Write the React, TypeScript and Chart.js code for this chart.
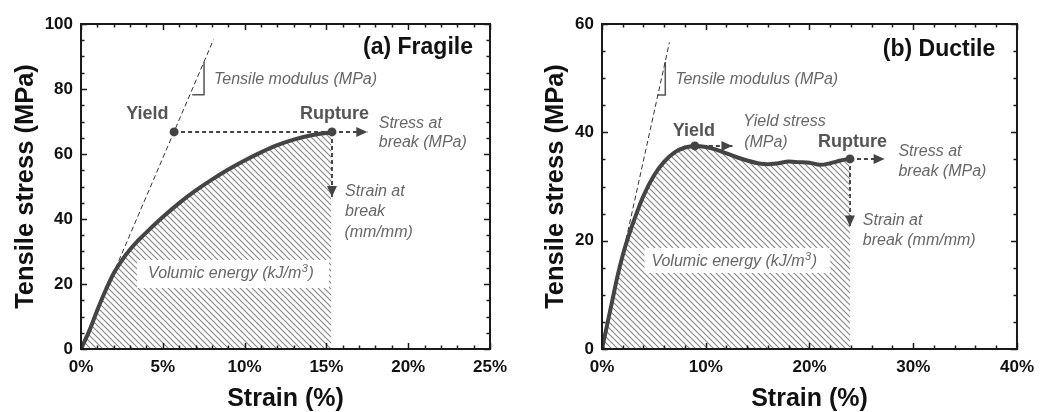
import React, { useEffect, useRef } from 'react';
import { Chart, registerables } from 'chart.js';

Chart.register(...registerables);

const FONT = "'Liberation Sans', Arial, Helvetica, sans-serif";

// ---------- (a) Fragile ----------
const fragileStrain = [0, 0.5, 1, 1.5, 2, 2.5, 3, 3.5, 4, 5, 6, 7, 8, 9, 10, 11, 12, 13, 14, 15.3];
const fragileStress = [0, 5.5, 12, 18, 23.3, 27.3, 30.6, 33.4, 35.9, 40.6, 44.9, 48.7, 52.1, 55.2, 58, 60.5, 62.7, 64.4, 65.7, 66.7];
const fragileModulusStrain = [0, 8.1];
const fragileModulusStress = [0, 95.2];
const fragileSlopeStrain = [6.8, 7.52, 7.52];
const fragileSlopeStress = [78.2, 78.2, 88.3];
const fragileYield = [5.69, 66.8];
const fragileRupture = [15.34, 66.8];
const fragileStressArrowTip = 17.5; // strain %
const fragileStrainArrowTip = 46.8; // MPa

// ---------- (b) Ductile ----------
const ductileStrain = [0, 0.5, 1, 1.5, 2, 2.5, 3, 4, 5, 6, 7, 8, 8.95, 10, 11, 12, 13, 14, 15, 16, 17, 18, 19, 20, 21, 22, 23, 23.9];
const ductileStress = [0, 4.5, 9, 13.5, 17.3, 20.5, 23.3, 28.3, 32, 34.6, 36.3, 37.2, 37.5, 37.3, 36.8, 36.1, 35.4, 34.8, 34.3, 34.1, 34.3, 34.6, 34.5, 34.4, 34.0, 34.3, 34.8, 35.1];
const ductileModulusStrain = [0, 6.5];
const ductileModulusStress = [0, 56.6];
const ductileSlopeStrain = [5.33, 6.1, 6.1];
const ductileSlopeStress = [46.9, 46.9, 53.0];
const ductileYield = [8.95, 37.5];
const ductileYieldArrowTip = 12.57; // strain %
const ductileRupture = [23.9, 35.1];
const ductileStressArrowTip = 27.24; // strain %
const ductileStrainArrowTip = 22.6; // MPa

// ---------- axes ----------
const fragileXTicks = { max: 25, step: 5, minor: 1 };
const fragileYTicks = { max: 100, step: 20, minor: 5 };
const ductileXTicks = { max: 40, step: 10, minor: 2 };
const ductileYTicks = { max: 60, step: 20, minor: 5 };

const X_TITLE = 'Strain (%)';
const Y_TITLE = 'Tensile stress (MPa)';

type TextSpec = { t: string; x: number; y: number; kind: 'bold' | 'italic' | 'panel'; align?: CanvasTextAlign };

const fragileTexts: TextSpec[] = [
  { t: '(a) Fragile', x: 23.96, y: 92.6, kind: 'panel', align: 'right' },
  { t: 'Tensile modulus (MPa)', x: 8.13, y: 82.8, kind: 'italic' },
  { t: 'Yield', x: 4.06, y: 72.3, kind: 'bold', align: 'center' },
  { t: 'Rupture', x: 15.5, y: 72.3, kind: 'bold', align: 'center' },
  { t: 'Stress at', x: 18.2, y: 69.5, kind: 'italic' },
  { t: 'break (MPa)', x: 18.2, y: 63.4, kind: 'italic' },
  { t: 'Strain at', x: 16.14, y: 48.6, kind: 'italic' },
  { t: 'break', x: 16.14, y: 42.2, kind: 'italic' },
  { t: '(mm/mm)', x: 16.1, y: 35.7, kind: 'italic' },
];
const ductileTexts: TextSpec[] = [
  { t: '(b) Ductile', x: 37.9, y: 55.2, kind: 'panel', align: 'right' },
  { t: 'Tensile modulus (MPa)', x: 7.05, y: 49.66, kind: 'italic' },
  { t: 'Yield', x: 8.86, y: 40.25, kind: 'bold', align: 'center' },
  { t: 'Yield stress', x: 13.62, y: 41.9, kind: 'italic' },
  { t: '(MPa)', x: 13.7, y: 38.2, kind: 'italic' },
  { t: 'Rupture', x: 24.14, y: 38.2, kind: 'bold', align: 'center' },
  { t: 'Stress at', x: 28.57, y: 36.37, kind: 'italic' },
  { t: 'break (MPa)', x: 28.57, y: 32.68, kind: 'italic' },
  { t: 'Strain at', x: 25.14, y: 23.8, kind: 'italic' },
  { t: 'break (mm/mm)', x: 25.14, y: 20.1, kind: 'italic' },
];

const fragileEnergy = { box: [3.42, 15.16, 18.77, 27.38], text: [4.1, 23.08] };
const ductileEnergy = { box: [4.1, 22.0, 14.03, 18.65], text: [4.76, 16.06] };

const CURVE = '#444444';
const HATCH = '#858585';

function makePattern(): CanvasPattern | string {
  const s = 6;
  const c = document.createElement('canvas');
  c.width = s;
  c.height = s;
  const g = c.getContext('2d');
  if (!g) return '#ccc';
  g.strokeStyle = HATCH;
  g.lineWidth = 1.1;
  for (const k of [-s, 0, s]) {
    g.beginPath();
    g.moveTo(k - 1, -1);
    g.lineTo(k + s + 1, s + 1);
    g.stroke();
  }
  const p = g.createPattern(c, 'repeat');
  return p || '#ccc';
}

function pts(xs: number[], ys: number[]) {
  return xs.map((x, i) => ({ x, y: ys[i] }));
}

function head(ctx: CanvasRenderingContext2D, x1: number, y1: number, x2: number, y2: number) {
  const len = 11, hw = 5;
  const a = Math.atan2(y2 - y1, x2 - x1);
  const c = Math.cos(a), s = Math.sin(a);
  ctx.beginPath();
  ctx.moveTo(x2, y2);
  ctx.lineTo(x2 - len * c + hw * s, y2 - len * s - hw * c);
  ctx.lineTo(x2 - len * c - hw * s, y2 - len * s + hw * c);
  ctx.closePath();
  ctx.fill();
}

interface Spec {
  strain: number[];
  stress: number[];
  xt: { max: number; step: number; minor: number };
  yt: { max: number; step: number; minor: number };
  modS: number[];
  modT: number[];
  slS: number[];
  slT: number[];
  yieldPt: number[];
  rupture: number[];
  yieldArrowTip: number | null;
  stressArrowTip: number;
  strainArrowTip: number;
  texts: TextSpec[];
  energy: { box: number[]; text: number[] };
  yTitlePad: number;
  rightPad: number;
}

function buildChart(canvas: HTMLCanvasElement, sp: Spec) {
  const pattern = makePattern();
  const dashed = { borderColor: CURVE, borderWidth: 2, borderDash: [4, 3], pointRadius: 0, fill: false, tension: 0 };
  const datasets: any[] = [
    {
      data: [
        { x: sp.yieldPt[0], y: sp.yieldPt[1] },
        { x: sp.rupture[0], y: sp.rupture[1] },
      ],
      showLine: false,
      pointRadius: 4.5,
      pointBackgroundColor: CURVE,
      pointBorderWidth: 0,
    },
    {
      data: pts(sp.strain, sp.stress),
      borderColor: CURVE,
      borderWidth: 4,
      pointRadius: 0,
      tension: 0.4,
      cubicInterpolationMode: 'monotone',
      fill: 'origin',
      backgroundColor: pattern,
    },
    {
      data: pts(sp.modS, sp.modT),
      borderColor: '#333',
      borderWidth: 1,
      borderDash: [5, 3],
      pointRadius: 0,
      tension: 0,
      fill: false,
    },
    {
      data: pts(sp.slS, sp.slT),
      borderColor: '#555',
      borderWidth: 1.5,
      pointRadius: 0,
      tension: 0,
      fill: false,
    },
    {
      ...dashed,
      data: [
        { x: sp.rupture[0], y: sp.rupture[1] },
        { x: sp.stressArrowTip, y: sp.rupture[1] },
      ],
    },
    {
      ...dashed,
      data: [
        { x: sp.rupture[0], y: sp.rupture[1] },
        { x: sp.rupture[0], y: sp.strainArrowTip },
      ],
    },
  ];
  if (sp.yieldArrowTip !== null) {
    datasets.push({
      ...dashed,
      data: [
        { x: sp.yieldPt[0], y: sp.yieldPt[1] },
        { x: sp.yieldArrowTip, y: sp.yieldPt[1] },
      ],
    });
  } else {
    datasets.push({
      ...dashed,
      data: [
        { x: sp.yieldPt[0], y: sp.yieldPt[1] },
        { x: sp.rupture[0], y: sp.rupture[1] },
      ],
    });
  }

  const overlay = {
    id: 'overlay',
    afterDatasetsDraw(chart: any) {
      const ctx: CanvasRenderingContext2D = chart.ctx;
      const xs = chart.scales.x;
      const ys = chart.scales.y;
      const X = (v: number) => xs.getPixelForValue(v);
      const Y = (v: number) => ys.getPixelForValue(v);
      ctx.save();
      // energy box
      const b = sp.energy.box;
      ctx.fillStyle = '#fff';
      ctx.fillRect(X(b[0]), Y(b[3]), X(b[1]) - X(b[0]), Y(b[2]) - Y(b[3]));
      ctx.fillStyle = '#666';
      ctx.textBaseline = 'middle';
      ctx.textAlign = 'left';
      ctx.font = `italic 16px ${FONT}`;
      let tx = X(sp.energy.text[0]);
      const ty = Y(sp.energy.text[1]);
      const main = 'Volumic energy (kJ/m';
      ctx.fillText(main, tx, ty);
      tx += ctx.measureText(main).width;
      ctx.font = `italic 11px ${FONT}`;
      ctx.fillText('3', tx + 0.5, ty - 5);
      tx += ctx.measureText('3').width + 1;
      ctx.font = `italic 16px ${FONT}`;
      ctx.fillText(')', tx, ty);

      // arrow heads
      ctx.fillStyle = CURVE;
      head(ctx, X(sp.rupture[0]), Y(sp.rupture[1]), X(sp.stressArrowTip), Y(sp.rupture[1]));
      head(ctx, X(sp.rupture[0]), Y(sp.rupture[1]), X(sp.rupture[0]), Y(sp.strainArrowTip));
      if (sp.yieldArrowTip !== null) {
        head(ctx, X(sp.yieldPt[0]), Y(sp.yieldPt[1]), X(sp.yieldArrowTip), Y(sp.yieldPt[1]));
      }

      // texts
      for (const t of sp.texts) {
        if (t.kind === 'italic') {
          ctx.font = `italic 16px ${FONT}`;
          ctx.fillStyle = '#666';
        } else if (t.kind === 'bold') {
          ctx.font = `bold 18px ${FONT}`;
          ctx.fillStyle = '#555';
        } else {
          ctx.font = `bold 23px ${FONT}`;
          ctx.fillStyle = '#111';
        }
        ctx.textAlign = t.align || 'left';
        ctx.fillText(t.t, X(t.x), Y(t.y));
      }

      // frame + inward ticks on all sides
      const { left, right, top, bottom } = chart.chartArea;
      ctx.strokeStyle = '#1a1a1a';
      ctx.lineWidth = 1.5;
      const eps = 1e-6;
      for (let v = 0; v <= sp.xt.max + eps; v += sp.xt.minor) {
        const major = Math.abs(v / sp.xt.step - Math.round(v / sp.xt.step)) < 1e-6;
        const L = major ? 6 : 3.5;
        const px = Math.round(X(v)) + 0.5;
        ctx.beginPath();
        ctx.moveTo(px, bottom);
        ctx.lineTo(px, bottom - L);
        ctx.moveTo(px, top);
        ctx.lineTo(px, top + L);
        ctx.stroke();
      }
      for (let v = 0; v <= sp.yt.max + eps; v += sp.yt.minor) {
        const major = Math.abs(v / sp.yt.step - Math.round(v / sp.yt.step)) < 1e-6;
        const L = major ? 6 : 3.5;
        const py = Math.round(Y(v)) + 0.5;
        ctx.beginPath();
        ctx.moveTo(left, py);
        ctx.lineTo(left + L, py);
        ctx.moveTo(right, py);
        ctx.lineTo(right - L, py);
        ctx.stroke();
      }
      ctx.lineWidth = 2;
      ctx.strokeRect(left, top, right - left, bottom - top);
      ctx.restore();
    },
  };

  return new Chart(canvas, {
    type: 'line',
    data: { datasets },
    plugins: [overlay],
    options: {
      responsive: false,
      animation: false,
      devicePixelRatio: 1,
      events: [],
      layout: { padding: { left: 0, top: 24, right: sp.rightPad, bottom: 0 } },
      plugins: { legend: { display: false }, tooltip: { enabled: false } },
      scales: {
        x: {
          type: 'linear',
          min: 0,
          max: sp.xt.max,
          grid: { display: false, drawTicks: false },
          border: { display: false },
          ticks: {
            stepSize: sp.xt.step,
            padding: 8,
            color: '#111',
            font: { family: FONT, size: 17, weight: 'bold' },
            callback: (v: any) => `${v}%`,
          },
          title: {
            display: true,
            text: X_TITLE,
            color: '#111',
            font: { family: FONT, size: 25, weight: 'bold', lineHeight: 1 },
            padding: { top: 0, bottom: 0 },
          },
          afterFit: (s: any) => {
            s.height = 63;
          },
        },
        y: {
          type: 'linear',
          min: 0,
          max: sp.yt.max,
          grid: { display: false, drawTicks: false },
          border: { display: false },
          ticks: {
            stepSize: sp.yt.step,
            padding: 8,
            color: '#111',
            font: { family: FONT, size: 17, weight: 'bold' },
          },
          title: {
            display: true,
            text: Y_TITLE,
            color: '#111',
            font: { family: FONT, size: 25.5, weight: 'bold', lineHeight: 1 },
            padding: { top: sp.yTitlePad, bottom: 0 },
          },
          afterFit: (s: any) => {
            s.width = 81;
          },
        },
      },
    } as any,
  });
}

const fragileSpec: Spec = {
  strain: fragileStrain,
  stress: fragileStress,
  xt: fragileXTicks,
  yt: fragileYTicks,
  modS: fragileModulusStrain,
  modT: fragileModulusStress,
  slS: fragileSlopeStrain,
  slT: fragileSlopeStress,
  yieldPt: fragileYield,
  rupture: fragileRupture,
  yieldArrowTip: null,
  stressArrowTip: fragileStressArrowTip,
  strainArrowTip: fragileStrainArrowTip,
  texts: fragileTexts,
  energy: fragileEnergy,
  yTitlePad: 13.5,
  rightPad: 31,
};

const ductileSpec: Spec = {
  strain: ductileStrain,
  stress: ductileStress,
  xt: ductileXTicks,
  yt: ductileYTicks,
  modS: ductileModulusStrain,
  modT: ductileModulusStress,
  slS: ductileSlopeStrain,
  slT: ductileSlopeStress,
  yieldPt: ductileYield,
  rupture: ductileRupture,
  yieldArrowTip: ductileYieldArrowTip,
  stressArrowTip: ductileStressArrowTip,
  strainArrowTip: ductileStrainArrowTip,
  texts: ductileTexts,
  energy: ductileEnergy,
  yTitlePad: 22.5,
  rightPad: 20,
};

export default function App() {
  const leftRef = useRef<HTMLCanvasElement>(null);
  const rightRef = useRef<HTMLCanvasElement>(null);
  useEffect(() => {
    const c1 = buildChart(leftRef.current as HTMLCanvasElement, fragileSpec);
    const c2 = buildChart(rightRef.current as HTMLCanvasElement, ductileSpec);
    return () => {
      c1.destroy();
      c2.destroy();
    };
  }, []);
  return (
    <div style={{ position: 'absolute', left: 0, top: 0, width: 1042, height: 412, background: '#fff', overflow: 'hidden' }}>
      <canvas ref={leftRef} width={521} height={412} style={{ position: 'absolute', left: 0, top: 0 }} />
      <canvas ref={rightRef} width={521} height={412} style={{ position: 'absolute', left: 521, top: 0 }} />
    </div>
  );
}
